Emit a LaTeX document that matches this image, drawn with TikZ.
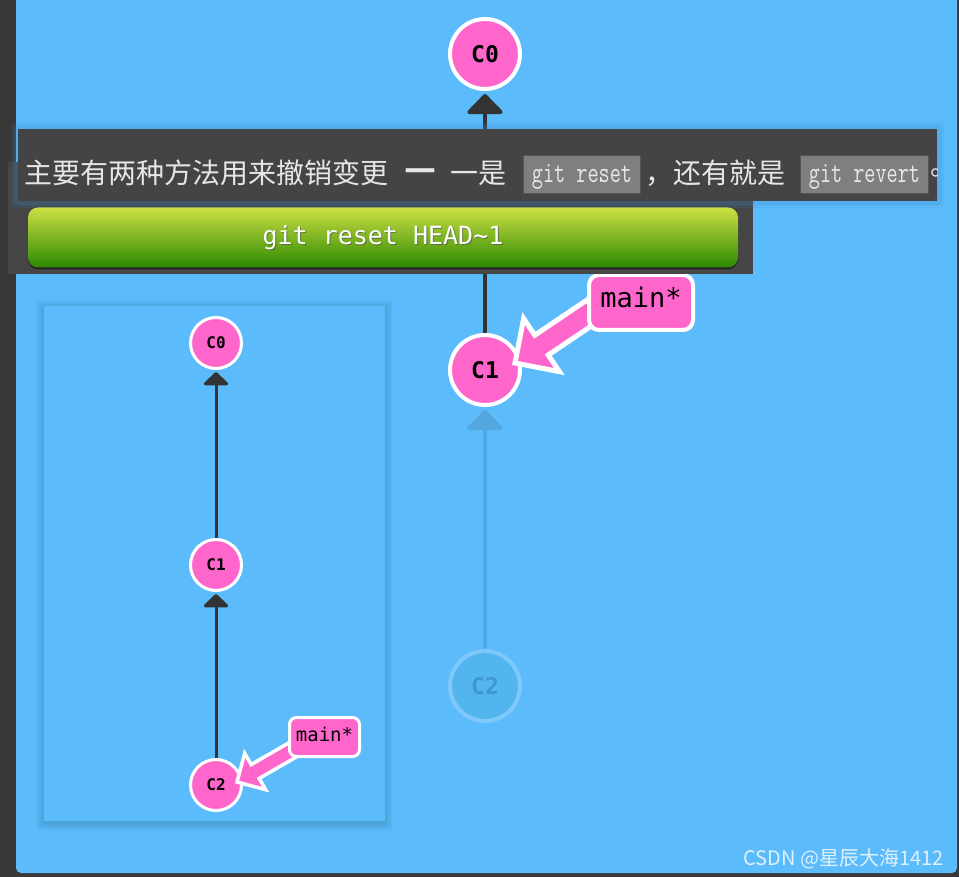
\documentclass[tikz,border=0pt]{standalone}
\usepackage{fontspec}
\usetikzlibrary{arrows.meta}
\newfontfamily\cjk{Noto Sans CJK SC}
\newfontfamily\dmono{DejaVu Sans Mono}
\newfontfamily\dashfont{DejaVu Sans}
\newfontfamily\codefont{Latin Modern Mono}[FakeStretch=0.72]
\definecolor{bgdark}{HTML}{383838}
\definecolor{panelblue}{HTML}{5CBBFA}
\definecolor{commitpink}{HTML}{FF66CC}
\definecolor{edgedark}{HTML}{333333}
\definecolor{bardark}{HTML}{444444}
\definecolor{bardark2}{HTML}{464646}
\definecolor{codegray}{HTML}{7F7F7F}
\definecolor{codeedge}{HTML}{555555}
\definecolor{codetext}{HTML}{E8E8E8}
\definecolor{textgray}{HTML}{E6E6E6}
\definecolor{ghostfill}{HTML}{53B5EE}
\definecolor{ghostring}{HTML}{7EC8FB}
\definecolor{ghosttext}{HTML}{3E98CF}
\definecolor{ghostedge}{HTML}{55A7DF}
\definecolor{btntop}{HTML}{CDE044}
\definecolor{btnmid}{HTML}{8DBD25}
\definecolor{btnbot}{HTML}{2C8800}
\definecolor{glowblue}{HTML}{3A8AD0}
\begin{document}
\begin{tikzpicture}[x=1pt,y=-1pt,
  commit/.style={circle, fill=commitpink, draw=white, line width=4pt, minimum size=70pt, inner sep=0pt, text=black, font=\dmono\bfseries\fontsize{23}{23}\selectfont},
  smallcommit/.style={commit, line width=3pt, minimum size=51pt, font=\dmono\bfseries\fontsize{16}{16}\selectfont},
  ghostcommit/.style={commit, fill=ghostfill, draw=ghostring, text=ghosttext},
  parentedge/.style={draw=edgedark, line width=4pt, -{Triangle[width=40pt,length=21pt,round]}, shorten >=3pt},
  smalledge/.style={draw=edgedark, line width=3pt, -{Triangle[width=28pt,length=14pt,round]}, shorten >=2pt},
  ghostparent/.style={parentedge, draw=ghostedge},
  branchlabel/.style={rectangle, rounded corners=10pt, fill=commitpink, draw=white, line width=4pt, minimum width=104pt, minimum height=55pt, inner sep=0pt, text height=20pt, text depth=10.6pt, font=\dmono\fontsize{27}{27}\selectfont},
  smallbranch/.style={branchlabel, rounded corners=7pt, line width=3pt, minimum width=70pt, minimum height=39pt, text height=14.5pt, text depth=5.1pt, font=\dmono\fontsize{19}{19}\selectfont},
  pointer/.style={fill=commitpink, draw=white, line width=5pt, line join=miter},
  smallpointer/.style={pointer, line width=3.5pt},
  cjktext/.style={inner sep=0pt, text=textgray, font=\cjk\fontsize{28}{28}\selectfont},
  codebox/.style={rectangle, fill=codegray, draw=codeedge, line width=1pt, minimum height=38pt, inner sep=0pt, text=codetext, text height=19pt, text depth=2pt, font=\codefont\fontsize{30}{30}\selectfont},
  button/.style={rectangle, rounded corners=10pt, minimum width=710pt, minimum height=60pt, top color=btntop, middle color=btnmid, bottom color=btnbot},
  btnlabel/.style={font=\dmono\fontsize{25}{25}\selectfont}
]
\useasboundingbox (0,0) rectangle (959,877);
% backgrounds
\fill[bgdark] (0,0) rectangle (959,877);
\fill[panelblue, rounded corners=5pt] (16,-20) rectangle (957,873);

% inset panel with soft shadow
\foreach \i in {1,...,8} {
  \fill[black, opacity=0.016] (44-\i, 306-\i+2) rectangle (385+\i, 821+\i+2);
}
\fill[panelblue] (44,306) rectangle (385,821);

% inset graph
\node[smallcommit] (s0) at (216,343) {C0};
\node[smallcommit] (s1) at (216,565) {C1};
\node[smallcommit] (s2) at (216,785) {C2};
\draw[smalledge] (s1) -- (s0);
\draw[smalledge] (s2) -- (s1);
\coordinate (s2tip) at (237,782);
\begin{scope}[shift={(s2tip)}, rotate=30]
  \filldraw[smallpointer] (0,0) -- (21,21) -- (21,8) -- (70,8) -- (70,-8) -- (21,-8) -- (21,-21) -- cycle;
\end{scope}
\node[smallbranch] (smain) at (324.5,737) {main*};

% main graph
\node[commit] (c0) at (485,54) {C0};
\node[commit] (c1) at (485,370) {C1};
\node[ghostcommit] (c2) at (485,686) {C2};
\draw[parentedge] (c1) -- (c0);
\draw[ghostparent] (c2) -- (c1);
\coordinate (c1tip) at (515,363);
\begin{scope}[shift={(c1tip)}, rotate=34]
  \filldraw[pointer] (0,0) -- (32,32) -- (32,12) -- (95,12) -- (95,-12) -- (32,-12) -- (32,-32) -- cycle;
\end{scope}
\node[branchlabel] (mainlabel) at (641,302.5) {main*};

% command bar
\fill[bardark2] (8,162) rectangle (753,274);
\node[button, preaction={fill=black!85, transform canvas={yshift=-2pt}}] (btn) at (383,237.5) {};
\node[btnlabel, text=black!70, opacity=0.6] (btnshadow) at (384,239) {git reset HEAD\textasciitilde 1};
\node[btnlabel, text=white] (btntext) at (383,237.5) {git reset HEAD\textasciitilde 1};

% description bar with glow
\fill[glowblue, opacity=0.12, rounded corners=5pt] (11,122) rectangle (944,208);
\fill[glowblue, opacity=0.18, rounded corners=3pt] (14,125) rectangle (941,205);
\fill[bardark] (18,129) rectangle (937,201);
\begin{scope}
  \clip (18,129) rectangle (937,201);
  \node[cjktext, anchor=west] (t1) at (24,173) {主要有两种方法用来撤销变更};
  \node[inner sep=0pt, text=textgray, font=\dashfont\bfseries\fontsize{32}{32}\selectfont] (dash) at (420,174) {—};
  \node[cjktext, anchor=west] (t2) at (450,173) {一是};
  \node[codebox, minimum width=117pt] (code1) at (582,174.5) {git reset};
  \node[cjktext, anchor=west] (t3) at (645,173) {，还有就是};
  \node[codebox, minimum width=128pt] (code2) at (864.5,174.5) {git revert};
  \node[cjktext, anchor=west] (t4) at (930,173) {。};
\end{scope}

% watermark
\node[anchor=base east, inner sep=0pt, text=white, opacity=0.8, font=\cjk\fontsize{20}{20}\selectfont] (wm) at (944,865) {CSDN @星辰大海1412};
\end{tikzpicture}
\end{document}
